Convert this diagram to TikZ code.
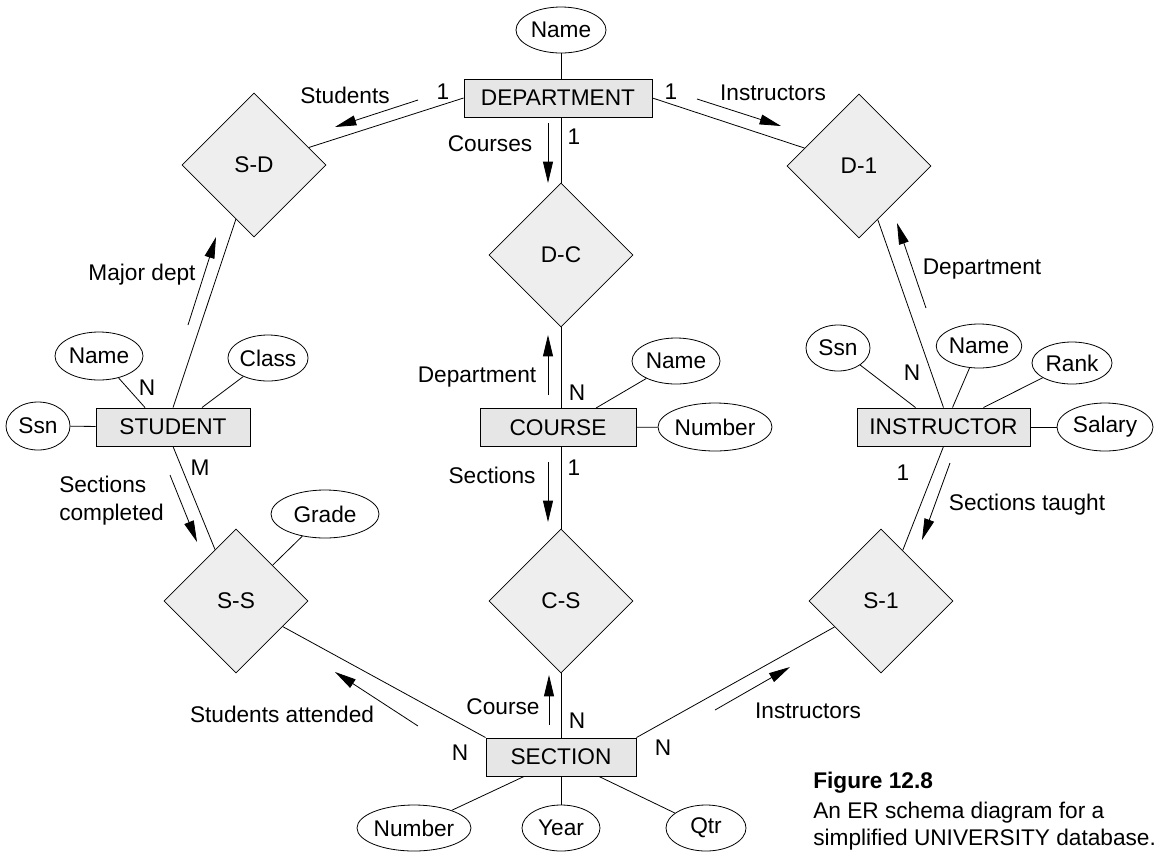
\documentclass[tikz,border=0pt]{standalone}
\usepackage{fontspec}
\setmainfont{Liberation Sans}
\usetikzlibrary{shapes.geometric,arrows.meta,calc}
\definecolor{entfill}{HTML}{E6E6E6}
\definecolor{relfill}{HTML}{EEEEEE}
\begin{document}
\begin{tikzpicture}[x=0.75pt,y=-0.75pt,
  font=\fontsize{17}{21}\selectfont,
  every node/.style={inner sep=0pt},
  ent/.style={draw,fill=entfill,minimum height=28.5pt,line width=0.7pt},
  rel/.style={draw,fill=relfill,diamond,aspect=1,minimum width=108pt,minimum height=108pt,line width=0.6pt},
  attr/.style={draw,ellipse,line width=0.6pt},
  link/.style={line width=0.6pt},
  ann/.style={line width=0.6pt,-{Triangle[length=16pt,width=7.5pt]}},
  lbl/.style={anchor=base}
]
\useasboundingbox (0,0) rectangle (1161,851);

% entities
\node[ent,minimum width=141pt] (dept) at (558,98) {DEPARTMENT};
\node[ent,minimum width=115.5pt] (student) at (173,427) {STUDENT};
\node[ent,minimum width=117pt] (course) at (558,427.5) {COURSE};
\node[ent,minimum width=129.75pt] (instructor) at (943.5,427) {INSTRUCTOR};
\node[ent,minimum width=112.5pt] (section) at (561,757) {SECTION};

% relationships
\node[rel] (sd) at (254,165) {S-D};
\node[rel] (dc) at (561,255) {D-C};
\node[rel] (d1) at (859,166) {D-1};
\node[rel] (ss) at (236,601) {S-S};
\node[rel] (cs) at (561,601) {C-S};
\node[rel] (s1) at (881,601) {S-1};

% attributes
\node[attr,minimum width=67.5pt,minimum height=34.5pt] (dname) at (561,30) {Name};
\node[attr,minimum width=66pt,minimum height=36pt] (sname) at (99,356) {Name};
\node[attr,minimum width=60pt,minimum height=34.5pt] (sclass) at (268,358) {Class};
\node[attr,minimum width=48pt,minimum height=36pt] (sssn) at (38,426) {Ssn};
\node[attr,minimum width=81pt,minimum height=36pt] (grade) at (325,514) {Grade};
\node[attr,minimum width=66pt,minimum height=34.5pt] (cname) at (676,361) {Name};
\node[attr,minimum width=82.5pt,minimum height=36pt] (cnumber) at (715,427) {Number};
\node[attr,minimum width=48pt,minimum height=34.5pt] (issn) at (838,348) {Ssn};
\node[attr,minimum width=60pt,minimum height=33pt] (iname) at (979,346) {Name};
\node[attr,minimum width=60pt,minimum height=31.5pt] (rank) at (1072,363) {Rank};
\node[attr,minimum width=72pt,minimum height=36pt] (salary) at (1105,427) {Salary};
\node[attr,minimum width=79.5pt,minimum height=34.5pt] (snumber) at (414,828) {Number};
\node[attr,minimum width=58.5pt,minimum height=34.5pt] (year) at (561,828) {Year};
\node[attr,minimum width=60pt,minimum height=34.5pt] (qtr) at (706,828) {Qtr};

% links
\draw[link] (dname) -- (dname.south |- dept.north);
\draw[link] (dept.west) -- (sd);
\draw[link] (dept.east) -- (d1);
\draw[link] (dc.north |- dept.south) -- (dc);
\draw[link] (dc) -- (dc.south |- course.north);
\draw[link] (cs.north |- course.south) -- (cs);
\draw[link] (cs) -- (cs.south |- section.north);
\draw[link] (sd) -- (student.north);
\draw[link] (sname) -- ([xshift=-21pt]student.north);
\draw[link] (sclass) -- ([xshift=21.75pt]student.north);
\draw[link] (sssn) -- (student);
\draw[link] (student.south) -- (ss);
\draw[link] (grade) -- (ss);
\draw[link] (cname) -- ([xshift=28.5pt]course.north);
\draw[link] (cnumber) -- (course);
\draw[link] (d1) -- (instructor.north);
\draw[link] (issn) -- ([xshift=-21pt]instructor.north);
\draw[link] (iname) -- ([xshift=6.75pt]instructor.north);
\draw[link] (rank) -- ([xshift=30pt]instructor.north);
\draw[link] (salary) -- (instructor);
\draw[link] (instructor.south) -- ($(s1.north)!0.3!(s1.east)$);
\draw[link] (section.north west) -- (ss);
\draw[link] (section.north east) -- (s1);
\draw[link] ([xshift=-27.75pt]section.south) -- (snumber);
\draw[link] (section.south) -- (year);
\draw[link] ([xshift=28.5pt]section.south) -- (qtr);

% direction arrows
\coordinate (a1s) at (418,100); \coordinate (a1e) at (335,127);
\coordinate (a2s) at (697,99);  \coordinate (a2e) at (781,126);
\coordinate (a3s) at (548,123); \coordinate (a3e) at (548,183);
\coordinate (a4s) at (548,395); \coordinate (a4e) at (548,335);
\coordinate (a5s) at (548,462); \coordinate (a5e) at (548,522);
\coordinate (a6s) at (549,725); \coordinate (a6e) at (549,675);
\coordinate (a7s) at (188,325); \coordinate (a7e) at (216,237);
\coordinate (a8s) at (926,308); \coordinate (a8e) at (897,223);
\coordinate (a9s) at (170,475); \coordinate (a9e) at (197,542);
\coordinate (a10s) at (950,463); \coordinate (a10e) at (922,540);
\coordinate (a11s) at (418,726); \coordinate (a11e) at (335,672);
\coordinate (a12s) at (715,710); \coordinate (a12e) at (790,667);
\foreach \i in {1,...,12} {\draw[ann] (a\i s) -- (a\i e);}

% labels
\node[lbl] at (345,103) {Students};
\node[lbl] at (443,99) {1};
\node[lbl] at (671,99) {1};
\node[lbl] at (773,100) {Instructors};
\node[lbl] at (490,151) {Courses};
\node[lbl] at (574,144) {1};
\node[lbl] at (142,280) {Major dept};
\node[lbl] at (982,274) {Department};
\node[lbl] at (477,382) {Department};
\node[lbl] at (577,400) {N};
\node[lbl] at (147,395) {N};
\node[lbl] at (912,380) {N};
\node[lbl] at (200,475) {M};
\node[align=left,anchor=west] at (59,501) {Sections\\completed};
\node[lbl] at (492,483) {Sections};
\node[lbl] at (574,475) {1};
\node[lbl] at (903,480) {1};
\node[lbl] at (1027,510) {Sections taught};
\node[lbl] at (282,722) {Students attended};
\node[lbl] at (503,714) {Course};
\node[lbl] at (577,728) {N};
\node[lbl] at (460,760) {N};
\node[lbl] at (663,755) {N};
\node[lbl] at (808,718) {Instructors};

% caption
\node[anchor=base west] at (813,788) {\bfseries Figure 12.8};
\node[anchor=base west] at (813,818) {An ER schema diagram for a};
\node[anchor=base west] at (813,845) {simplified UNIVERSITY database.};
\end{tikzpicture}
\end{document}
